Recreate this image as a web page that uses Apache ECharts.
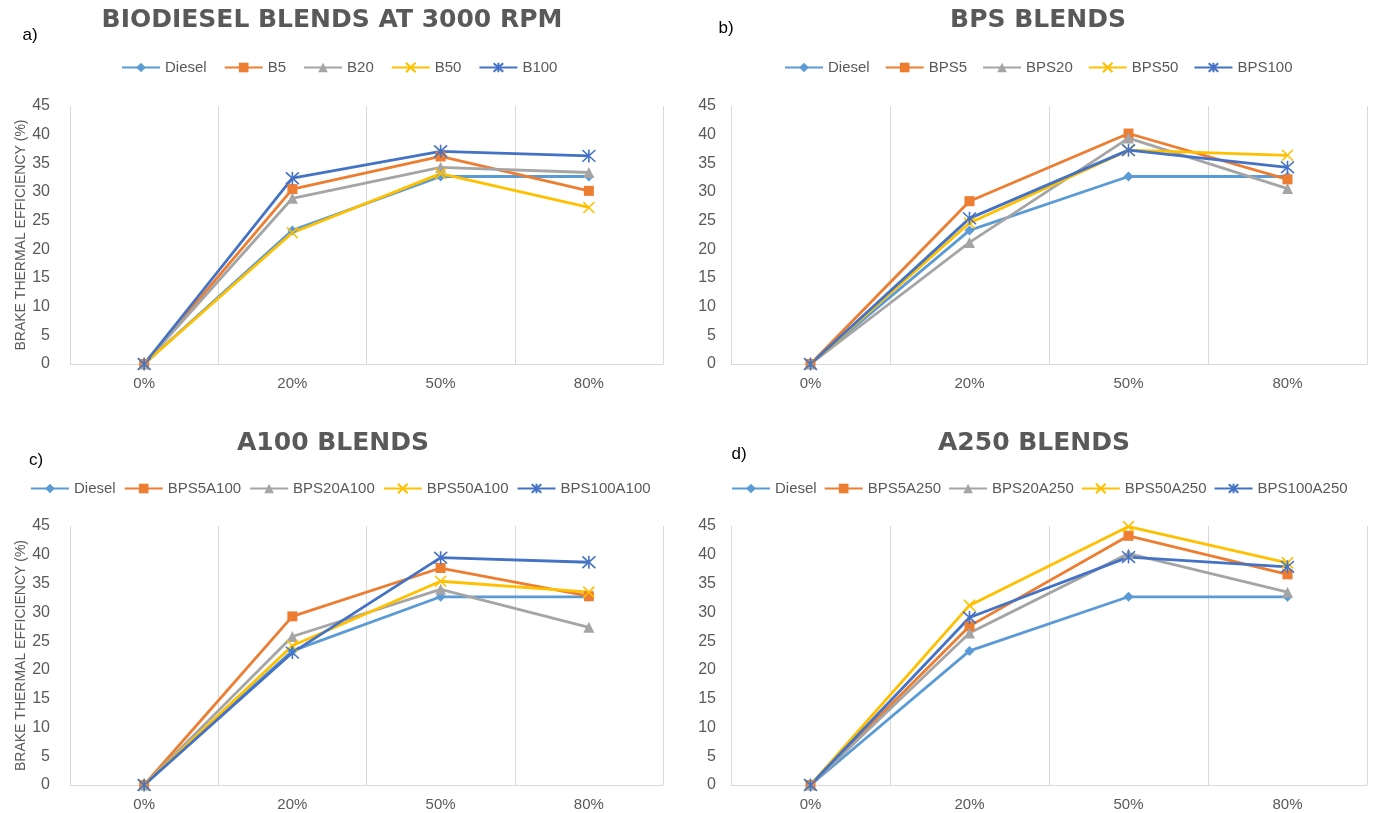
<!DOCTYPE html>
<html><head><meta charset="utf-8">
<script src="https://cdn.jsdelivr.net/npm/echarts@6/dist/echarts.min.js"></script>
<style>html,body{margin:0;padding:0;background:#fff}#chart{width:1373px;height:813px}</style>
</head><body><div id="chart"></div>
<script>
// ---------- data ----------
const categories = ['0%', '20%', '50%', '80%'];
const yMin = 0, yMax = 45, yInterval = 5;
const yAxisName = 'BRAKE THERMAL EFFICIENCY (%)';

const panelTitles = ['BIODIESEL BLENDS AT 3000 RPM', 'BPS BLENDS', 'A100 BLENDS', 'A250 BLENDS'];
const panelLetters = ['a)', 'b)', 'c)', 'd)'];

const diesel = [0, 23.3, 32.7, 32.7];

// a) biodiesel blends
const namesA = ['Diesel', 'B5', 'B20', 'B50', 'B100'];
const b5 = [0, 30.5, 36.2, 30.2];
const b20 = [0, 28.9, 34.3, 33.4];
const b50 = [0, 22.9, 33.2, 27.3];
const b100 = [0, 32.4, 37.1, 36.3];

// b) BPS blends
const namesB = ['Diesel', 'BPS5', 'BPS20', 'BPS50', 'BPS100'];
const bps5 = [0, 28.4, 40.2, 32.2];
const bps20 = [0, 21.2, 39.4, 30.6];
const bps50 = [0, 24.6, 37.3, 36.4];
const bps100 = [0, 25.4, 37.3, 34.3];

// c) A100 blends
const namesC = ['Diesel', 'BPS5A100', 'BPS20A100', 'BPS50A100', 'BPS100A100'];
const bps5a100 = [0, 29.3, 37.7, 32.8];
const bps20a100 = [0, 25.8, 34.0, 27.4];
const bps50a100 = [0, 24.2, 35.4, 33.5];
const bps100a100 = [0, 23.0, 39.5, 38.7];

// d) A250 blends
const namesD = ['Diesel', 'BPS5A250', 'BPS20A250', 'BPS50A250', 'BPS100A250'];
const bps5a250 = [0, 27.6, 43.3, 36.6];
const bps20a250 = [0, 26.4, 40.2, 33.5];
const bps50a250 = [0, 31.2, 44.9, 38.6];
const bps100a250 = [0, 29.1, 39.6, 37.9];

// ---------- styling ----------
const colors = ['#5B9BD5', '#ED7D31', '#A5A5A5', '#FFC000', '#4472C4'];
const xPath = 'path://M0,0L10,10M10,0L0,10';
const starPath = 'path://M5,0L5,10M0.5,0.5L9.5,9.5M9.5,0.5L0.5,9.5';
const symbols = ['diamond', 'rect', 'triangle', xPath, starPath];
const symbolSizes = [10, 10, 11, 11, 13];
const stroked = [false, false, false, true, true];
const SANS = '"Liberation Sans", Arial, sans-serif';
const TXT = '#595959';

const panels = [
  { names: namesA, data: [diesel, b5, b20, b50, b100], grid: { left: 70, top: 106, width: 593, height: 258 },
    legend: { left: 121, top: 60, gap: 17 }, title: [332, 20], letter: [30, 35], yName: true },
  { names: namesB, data: [diesel, bps5, bps20, bps50, bps100], grid: { left: 731, top: 106, width: 636, height: 258 },
    legend: { left: 784, top: 60, gap: 15 }, title: [1038, 20], letter: [726, 28], yName: false },
  { names: namesC, data: [diesel, bps5a100, bps20a100, bps50a100, bps100a100], grid: { left: 70, top: 526, width: 593, height: 259 },
    legend: { left: 30, top: 481, gap: 8 }, title: [333, 443], letter: [36, 460], yName: true },
  { names: namesD, data: [diesel, bps5a250, bps20a250, bps50a250, bps100a250], grid: { left: 731, top: 526, width: 636, height: 259 },
    legend: { left: 731, top: 481, gap: 7 }, title: [1034, 443], letter: [739, 454], yName: false }
];

const option = {
  backgroundColor: '#fff',
  animation: false,
  grid: [], xAxis: [], yAxis: [], legend: [], series: [], graphic: []
};

panels.forEach((p, g) => {
  option.grid.push(Object.assign({ containLabel: false }, p.grid));
  option.xAxis.push({
    type: 'category', gridIndex: g, data: categories, boundaryGap: true,
    axisLine: { show: true, lineStyle: { color: '#D9D9D9', width: 1 } },
    axisTick: { show: false },
    splitLine: { show: true, lineStyle: { color: '#D9D9D9', width: 1 } },
    axisLabel: { color: TXT, fontSize: 15, fontFamily: SANS, margin: 12 }
  });
  option.yAxis.push({
    type: 'value', gridIndex: g, min: yMin, max: yMax, interval: yInterval,
    axisLine: { show: false }, axisTick: { show: false }, splitLine: { show: false },
    axisLabel: { color: TXT, fontSize: 16, fontFamily: SANS, margin: p.yName ? 20 : 15 },
    name: p.yName ? yAxisName : '', nameLocation: 'middle', nameGap: 42,
    nameTextStyle: { color: TXT, fontSize: 14, fontFamily: SANS }
  });
  option.legend.push({
    left: p.legend.left, top: p.legend.top, padding: 0, orient: 'horizontal',
    itemWidth: 38, itemHeight: 12, itemGap: p.legend.gap,
    data: p.names, selectedMode: false,
    textStyle: { color: TXT, fontSize: 15, fontFamily: SANS }
  });
  p.names.forEach((name, i) => {
    option.series.push({
      type: 'line', name: name, xAxisIndex: g, yAxisIndex: g, data: p.data[i],
      symbol: symbols[i], symbolSize: symbolSizes[i],
      lineStyle: { color: colors[i], width: 2.8 },
      itemStyle: { color: colors[i], borderColor: colors[i], borderWidth: stroked[i] ? 1.6 : 0 },
      emphasis: { disabled: true }, clip: false
    });
  });
  option.graphic.push({
    type: 'text', x: p.title[0], y: p.title[1],
    style: { text: panelTitles[g], fill: TXT, font: 'bold 25px "DejaVu Sans", sans-serif', align: 'center', verticalAlign: 'middle' }
  });
  option.graphic.push({
    type: 'text', x: p.letter[0], y: p.letter[1],
    style: { text: panelLetters[g], fill: '#000', font: '17px ' + SANS, align: 'center', verticalAlign: 'middle' }
  });
});

const chart = echarts.init(document.getElementById('chart'), null, { renderer: 'canvas' });
chart.setOption(option);
</script></body></html>
